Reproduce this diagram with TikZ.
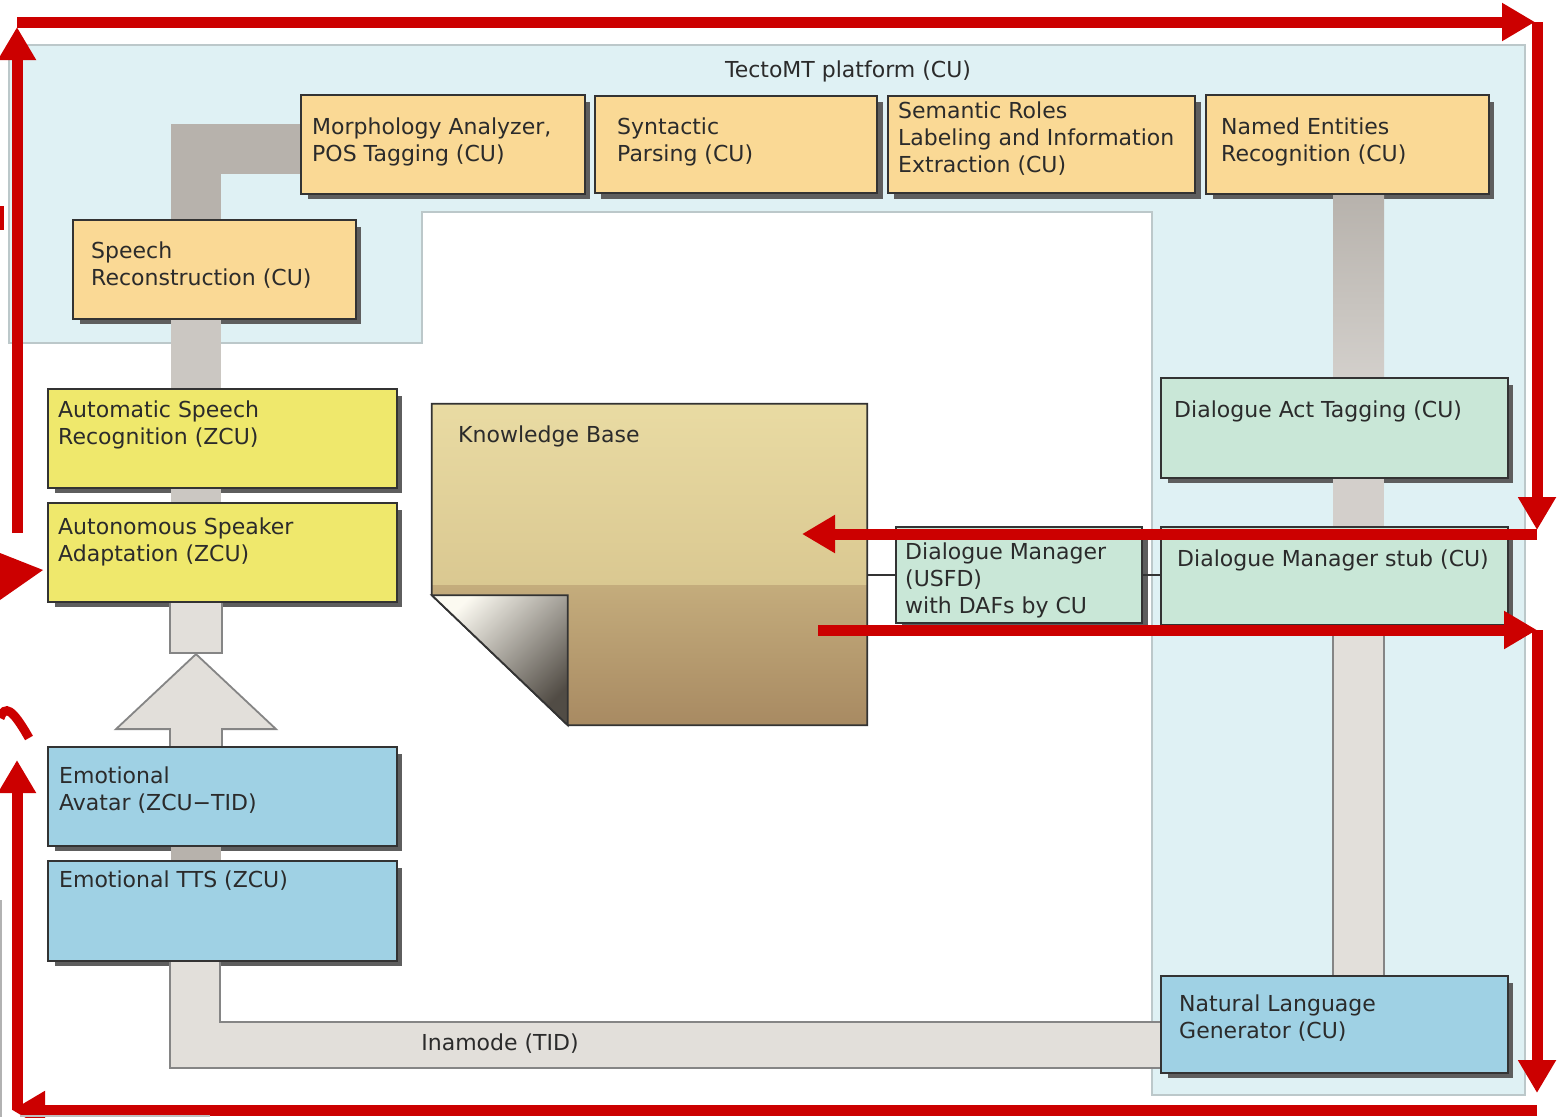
\documentclass[tikz,border=0pt]{standalone}
\usepackage{fontspec}
\setmainfont{DejaVu Sans}
\usetikzlibrary{arrows.meta,calc,shadows}

\definecolor{panel}{HTML}{DFF1F4}
\definecolor{panelline}{HTML}{BCC8CA}
\definecolor{orangebox}{HTML}{FAD995}
\definecolor{yellowbox}{HTML}{EFE86C}
\definecolor{greenbox}{HTML}{C9E7D7}
\definecolor{bluebox}{HTML}{9FD1E4}
\definecolor{boxline}{HTML}{333333}
\definecolor{shadowc}{HTML}{5E5E5E}
\definecolor{bandA}{HTML}{B7B2AC}
\definecolor{bandB}{HTML}{CBC7C2}
\definecolor{bandC}{HTML}{E2DFDA}
\definecolor{bandline}{HTML}{858585}
\definecolor{redc}{HTML}{CC0000}
\definecolor{txt}{HTML}{2B2B2B}
\definecolor{kbA}{HTML}{E9DBA3}
\definecolor{kbB}{HTML}{DAC891}
\definecolor{kbC}{HTML}{C4AC7C}
\definecolor{kbD}{HTML}{A88A62}

\tikzset{
  procbox/.style={draw=boxline, line width=1.8pt, inner sep=0pt, rectangle,
    general shadow={fill=shadowc, shadow xshift=6pt, shadow yshift=-6pt}},
  boxtext/.style={anchor=north west, inner sep=0pt, align=left, text=txt,
    font=\fontsize{22}{27}\selectfont},
  band/.style={line width=50pt, line cap=butt, line join=miter},
  redarrow/.style={draw=redc, line width=11pt, line cap=butt,
    -{Triangle[length=33pt,width=36pt]}},
}

\begin{document}
\begin{tikzpicture}[x=1pt,y=-1pt]
\useasboundingbox (0,0) rectangle (1557,1117);
\clip (0,0) rectangle (1557,1117);
\fill[white] (0,0) rectangle (1557,1117);

% TectoMT platform area
\filldraw[fill=panel, draw=panelline, line width=1.5pt]
  (9,45) -- (1525,45) -- (1525,1095) -- (1152,1095) -- (1152,212)
  -- (422,212) -- (422,343) -- (9,343) -- cycle;
\node[font=\fontsize{22}{27}\selectfont, text=txt] (platform) at (848,71) {TectoMT platform (CU)};

% component boxes
\node[procbox, fill=orangebox, minimum width=282pt, minimum height=97pt] (morph) at (443,144.5) {};
\node[procbox, fill=orangebox, minimum width=282pt, minimum height=97pt] (synt) at (736,144.5) {};
\node[procbox, fill=orangebox, minimum width=307pt, minimum height=97pt] (sem) at (1041.5,144.5) {};
\node[procbox, fill=orangebox, minimum width=281pt, minimum height=97pt] (ne) at (1347.5,144.5) {};
\node[procbox, fill=orangebox, minimum width=281pt, minimum height=97pt] (sr) at (214.5,269.5) {};
\node[procbox, fill=yellowbox, minimum width=347pt, minimum height=97pt] (asr) at (222.5,438.5) {};
\node[procbox, fill=yellowbox, minimum width=347pt, minimum height=97pt] (asa) at (222.5,552.5) {};
\node[procbox, fill=bluebox, minimum width=347pt, minimum height=97pt] (ea) at (222.5,796.5) {};
\node[procbox, fill=bluebox, minimum width=347pt, minimum height=98pt] (tts) at (222.5,911) {};
\node[procbox, fill=greenbox, minimum width=246pt, minimum height=96pt] (dm) at (1019,575) {};
\node[procbox, fill=greenbox, minimum width=345pt, minimum height=98pt] (dat) at (1334.5,428) {};
\node[procbox, fill=greenbox, minimum width=345pt, minimum height=96pt] (stub) at (1334.5,576) {};
\node[procbox, fill=bluebox, minimum width=345pt, minimum height=95pt] (nlg) at (1334.5,1024.5) {};
\node[inner sep=0pt, minimum width=435pt, minimum height=321pt] (kb) at (649.5,564.5) {};

% column axes for the thick bands
\coordinate (lcol) at (196,0);
\coordinate (rcol) at (1358.5,0);
\coordinate (bendL) at (196,149);
\coordinate (outL) at (170,0);
\coordinate (inL) at (220,0);

% thick bands between the boxes
\draw[band, bandA] (lcol |- sr.north) -- (bendL) -- (bendL -| morph.west);
\draw[band, bandB] (lcol |- sr.south) -- (lcol |- asr.north);
\draw[band, bandB] (lcol |- asr.south) -- (lcol |- asa.north);
\draw[band, bandA] (lcol |- ea.south) -- (lcol |- tts.north);
\shade[top color=bandA, bottom color=bandB!85!white]
  ($(rcol |- ne.south)+(-25.5,0)$) rectangle ($(rcol |- dat.north)+(25.5,0)$);
\fill[bandB!85!white]
  ($(rcol |- dat.south)+(-25.5,0)$) rectangle ($(rcol |- stub.north)+(25.5,0)$);
\filldraw[fill=bandC, draw=bandline, line width=1.8pt]
  ($(rcol |- stub.south)+(-25.5,0)$) rectangle ($(rcol |- nlg.north)+(25.5,0)$);

% adaptation feedback arrow
\filldraw[fill=bandC, draw=bandline, line width=1.8pt]
  ($(lcol |- asa.south)+(-26,0)$) rectangle ($(lcol |- asa.south)+(26,51)$);
\filldraw[fill=bandC, draw=bandline, line width=1.8pt]
  ($(lcol |- ea.north)+(-26,0)$) -- ($(lcol |- ea.north)+(-26,-18)$)
  -- ($(lcol |- ea.north)+(-80,-18)$) -- ($(lcol |- ea.north)+(0,-93)$)
  -- ($(lcol |- ea.north)+(80,-18)$) -- ($(lcol |- ea.north)+(26,-18)$)
  -- ($(lcol |- ea.north)+(26,0)$) -- cycle;

% Inamode band
\coordinate (inamodeTop) at (0,1022);
\coordinate (inamodeBot) at (0,1068);
\fill[bandC] (outL |- tts.south) -- (outL |- inamodeBot) -- (nlg.west |- inamodeBot)
  -- (nlg.west |- inamodeTop) -- (inL |- inamodeTop) -- (inL |- tts.south) -- cycle;
\draw[bandline, line width=1.8pt] (outL |- tts.south) -- (outL |- inamodeBot) -- (nlg.west |- inamodeBot);
\draw[bandline, line width=1.8pt] (inL |- tts.south) -- (inL |- inamodeTop) -- (nlg.west |- inamodeTop);
\node[font=\fontsize{22}{27}\selectfont, text=txt] (inamode) at (500,1044) {Inamode (TID)};

% boxes stroked again over the band ends
\foreach \b/\c in {morph/orangebox, sr/orangebox, asr/yellowbox, asa/yellowbox,
                   ea/bluebox, tts/bluebox, ne/orangebox, dat/greenbox, stub/greenbox, nlg/bluebox}{
  \filldraw[fill=\c, draw=boxline, line width=1.8pt] (\b.north west) rectangle (\b.south east);
}

% knowledge base note with folded corner
\begin{scope}
  \clip (kb.north west) -- (kb.north east) -- (kb.south east)
    -- ($(kb.south west)+(136,0)$) -- ($(kb.south west)+(0,-130)$) -- cycle;
  \shade[top color=kbA, bottom color=kbB] (kb.north west) rectangle ($(kb.east)+(0,20.5)$);
  \shade[top color=kbC, bottom color=kbD] ($(kb.west)+(0,20.5)$) rectangle (kb.south east);
\end{scope}
\draw[boxline, line width=1.8pt] (kb.north west) -- (kb.north east) -- (kb.south east)
  -- ($(kb.south west)+(136,0)$) -- ($(kb.south west)+(0,-130)$) -- cycle;
\shade[shading=axis, top color=white!85!kbA, bottom color=black!70!kbD!60!gray, shading angle=45]
  ($(kb.south west)+(0,-130)$) -- ($(kb.south west)+(136,-130)$) -- ($(kb.south west)+(136,0)$) -- cycle;
\draw[boxline, line width=1.8pt]
  ($(kb.south west)+(0,-130)$) -- ($(kb.south west)+(136,-130)$) -- ($(kb.south west)+(136,0)$) -- cycle;

% links of the dialogue manager
\draw[boxline, line width=1.5pt] (dm.west -| kb.east) -- (dm.west);
\draw[boxline, line width=1.5pt] (dm.east) -- (dm.east -| stub.west);

% box labels
\node[boxtext] (morph-t) at (312,118) {Morphology Analyzer,\\POS Tagging (CU)};
\node[boxtext] (synt-t) at (617,118) {Syntactic\\Parsing (CU)};
\node[boxtext] (sem-t) at (898,102) {Semantic Roles\\Labeling and Information\\Extraction (CU)};
\node[boxtext] (ne-t) at (1221,118) {Named Entities\\Recognition (CU)};
\node[boxtext] (sr-t) at (91,242) {Speech\\Reconstruction (CU)};
\node[boxtext] (asr-t) at (58,401) {Automatic Speech\\Recognition (ZCU)};
\node[boxtext] (asa-t) at (58,518) {Autonomous Speaker\\Adaptation (ZCU)};
\node[boxtext] (kb-t) at (458,426) {Knowledge Base};
\node[boxtext] (dm-t) at (905,543) {Dialogue Manager\\(USFD)\\with DAFs by CU};
\node[boxtext] (dat-t) at (1174,401) {Dialogue Act Tagging (CU)};
\node[boxtext] (stub-t) at (1177,550) {Dialogue Manager stub (CU)};
\node[boxtext] (ea-t) at (59,767) {Emotional\\Avatar (ZCU−TID)};
\node[boxtext] (tts-t) at (59,871) {Emotional TTS (ZCU)};
\node[boxtext] (nlg-t) at (1179,995) {Natural Language\\Generator (CU)};

% red flow arrows around the system
\coordinate (la1) at (17,533);  \coordinate (la2) at (17,27);
\coordinate (tl) at (17,22);    \coordinate (tr) at (1535,22);
\coordinate (rt) at (1537,22);  \coordinate (rm) at (1537,530);
\coordinate (m1) at (1537,534); \coordinate (m2) at (802,534);
\coordinate (n1) at (818,630);  \coordinate (n2) at (1537,630);
\coordinate (rb) at (1537,1093);
\coordinate (b1) at (1537,1110); \coordinate (b2) at (12,1110);
\coordinate (lb1) at (17,1110); \coordinate (lb2) at (17,760);

\draw[redarrow] (la1) -- (la2);
\draw[redarrow] (tl) -- (tr);
\draw[redarrow] (rt) -- (rm);
\draw[redarrow] (m1) -- (m2);
\draw[redarrow] (n1) -- (n2);
\draw[redarrow] (n2) -- (rb);
\draw[redarrow] (b1) -- (b2);
\draw[redarrow] (lb1) -- (lb2);

% pieces at the left edge
\fill[redc] (0,206) rectangle (4,230);
\fill[redc] (0,553) -- (43,570) -- (0,600) -- cycle;
\draw[redc, line width=9pt] (0,718) .. controls (5,705) and (12,708) .. (29,738);
\draw[gray!60, line width=1.5pt] (1,900) -- (1,1117);
\draw[gray!50, line width=2pt] (20,1116) -- (210,1116);
\end{tikzpicture}
\end{document}
